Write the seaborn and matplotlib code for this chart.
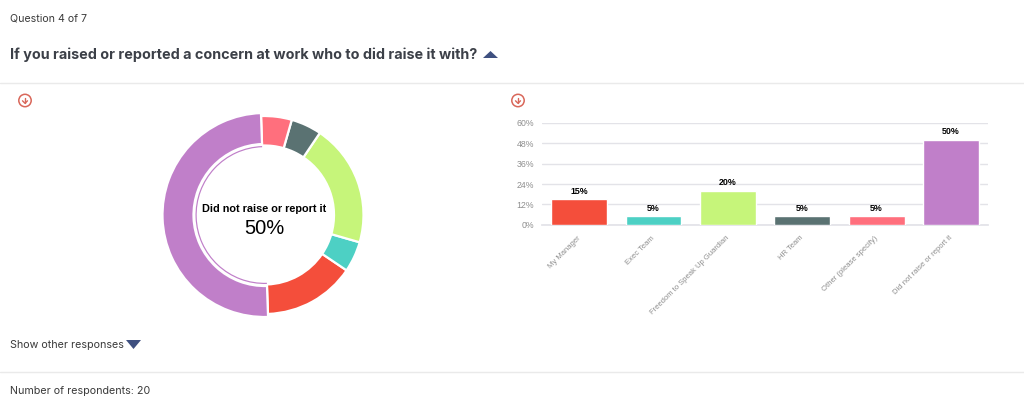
import matplotlib
matplotlib.use('Agg')
import matplotlib.pyplot as plt
import pandas as pd
import seaborn as sns
from matplotlib.patches import Circle, Polygon
from matplotlib.transforms import ScaledTranslation

# Survey results
categories = ['My Manager', 'Exec Team', 'Freedom to Speak Up Guardian', 'HR Team',
              'Other (please specify)', 'Did not raise or report it']
percent = [15, 5, 20, 5, 5, 50]
colors = ['#F44E3B', '#4DD0C4', '#C6F57A', '#5A7272', '#FF6F7D', '#C07FC9']
y_ticks = [0, 12, 24, 36, 48, 60]

W, H = 1024, 409
DARK = '#3C4048'
NAVY = '#3F5080'
sns.set_theme(style='white')
plt.rcParams['font.family'] = ['Liberation Sans', 'DejaVu Sans']

fig = plt.figure(figsize=(W / 100, H / 100), dpi=100)


def px_axes(left, top, right, bottom):
    return fig.add_axes([left / W, 1 - bottom / H, (right - left) / W, (bottom - top) / H])


# page layer in pixel coordinates
page = px_axes(0, 0, W, H)
page.set_xlim(0, W)
page.set_ylim(H, 0)
page.axis('off')
page.text(10, 19, 'Question 4 of 7', family='Inter', fontsize=7.6, color='#3a3a3a', va='center')
page.text(10, 54.5, 'If you raised or reported a concern at work who to did raise it with?',
          family='Inter', fontsize=10.37, fontweight='bold', color=DARK, va='center')
page.text(10, 344.5, 'Show other responses', family='Inter', fontsize=7.7, color='#3a3a3a', va='center')
page.text(10, 390.5, 'Number of respondents: 20', family='Inter', fontsize=7.7, color='#3a3a3a', va='center')
page.add_patch(Polygon([(483, 58), (498, 58), (490.5, 51)], color=NAVY, lw=0))
page.add_patch(Polygon([(126, 340), (141, 340), (133.5, 349)], color=NAVY, lw=0))
page.plot([0, W], [82.5, 82.5], color='#EAEAEA', lw=1)
page.plot([0, W], [371.5, 371.5], color='#EAEAEA', lw=1)

# download icons
for cx in (25, 518):
    page.add_patch(Circle((cx, 100.5), 6.2, fc='none', ec='#D9675A', lw=1.1))
    page.plot([cx, cx], [97.5, 103], color='#D9675A', lw=1)
    page.plot([cx - 2.5, cx, cx + 2.5], [100.8, 103.3, 100.8], color='#D9675A', lw=1)

# donut
donut = px_axes(149.5, 100, 379.5, 330)
wedges, _ = donut.pie(percent, colors=colors, startangle=272, counterclock=True, radius=99,
                      wedgeprops={'width': 29.5, 'edgecolor': 'white', 'linewidth': 1.6})
wedges[-1].set_radius(102)
wedges[-1].set_width(31)
ring, _ = donut.pie(percent, colors=colors, startangle=272, radius=69,
                    wedgeprops={'width': 1.2, 'linewidth': 0})
for w in ring[:-1]:
    w.set_visible(False)
donut.set_xlim(-115, 115)
donut.set_ylim(-115, 115)
donut.text(0, 6, categories[-1], ha='center', va='center', fontsize=7.85, fontweight='bold', color='black')
donut.text(0, -14, f'{percent[-1]}%', ha='center', va='center', fontsize=14.5, color='black')

# bars
data = pd.DataFrame({'category': categories, 'percent': percent})
ax = px_axes(541.8, 122.8, 988.2, 224.8)
sns.barplot(data=data, x='category', y='percent', hue='category', palette=colors,
            legend=False, width=0.75, saturation=1, ax=ax, zorder=3)
ax.set_ylim(0, 60)
ax.set_yticks(y_ticks)
ax.set_yticklabels([f'{v}%' for v in y_ticks], fontsize=6.3, color='#8E8E8E')
ax.set_xticks(range(len(categories)))
ax.set_xticklabels(categories, fontsize=5.5, color='#8E8E8E', rotation=45, ha='right',
                   rotation_mode='anchor')
ax.set_xlabel('')
ax.set_ylabel('')
ax.grid(axis='y', color='#E3E3E8', lw=1)
ax.set_axisbelow(True)
ax.tick_params(axis='y', length=0, pad=5.5)
ax.tick_params(axis='x', length=0, pad=7)
shift = ScaledTranslation(-2 / 100, 0, fig.dpi_scale_trans)
for label in ax.get_xticklabels():
    label.set_transform(label.get_transform() + shift)
for side in ('top', 'right', 'left'):
    ax.spines[side].set_visible(False)
ax.spines['bottom'].set_color('#E3E3E8')
for bar, v in zip(ax.patches, percent):
    ax.text(bar.get_x() + bar.get_width() / 2, v + 2, f'{v}%', ha='center', va='bottom',
            fontsize=6.4, fontweight='bold', color='black')

fig.savefig('out.png', dpi=100)
